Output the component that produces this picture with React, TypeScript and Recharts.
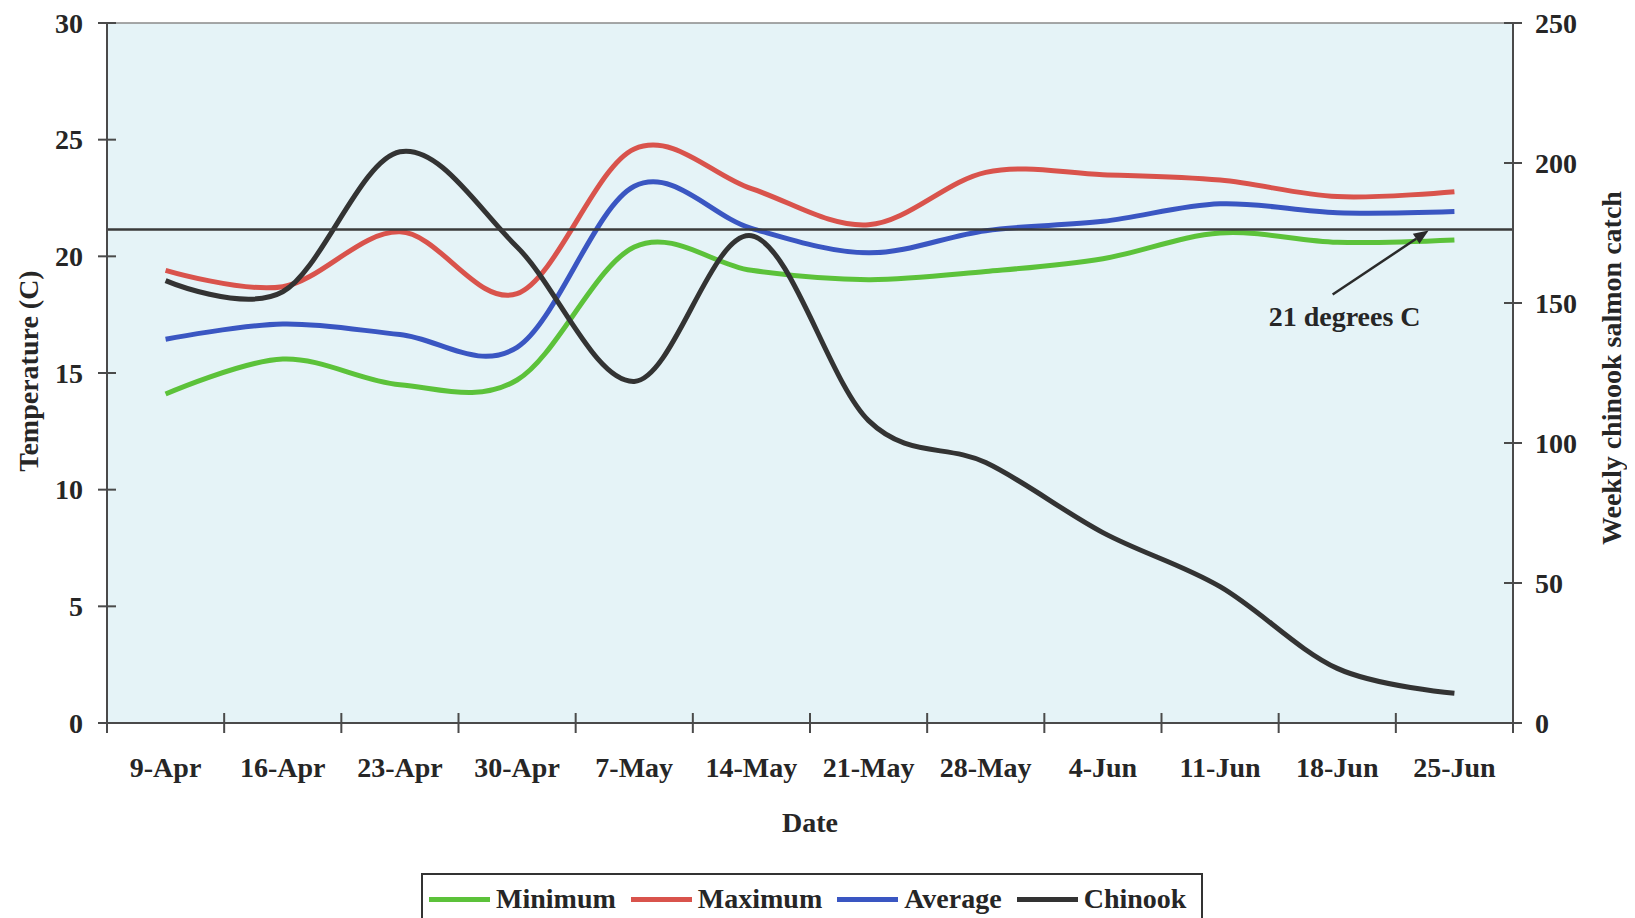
import React from 'react';
import { ComposedChart, Line, XAxis, YAxis, CartesianGrid, ReferenceLine, Legend } from 'recharts';

// ---------- data ----------
const dates = ['9-Apr', '16-Apr', '23-Apr', '30-Apr', '7-May', '14-May', '21-May', '28-May', '4-Jun', '11-Jun', '18-Jun', '25-Jun'];
const minimumTemp = [14.1, 15.6, 14.5, 14.7, 20.4, 19.4, 19.0, 19.35, 19.9, 21.0, 20.6, 20.7];
const maximumTemp = [19.4, 18.7, 21.05, 18.4, 24.6, 22.9, 21.35, 23.6, 23.5, 23.27, 22.56, 22.77];
const averageTemp = [16.45, 17.1, 16.65, 16.1, 23.0, 21.2, 20.15, 21.1, 21.5, 22.25, 21.87, 21.92];
const chinookCatch = [158, 154, 204, 170, 122, 174, 108, 93, 68, 48.7, 19.5, 10.6];
const seriesNames = ['Minimum', 'Maximum', 'Average', 'Chinook'];
const tempTicks = [0, 5, 10, 15, 20, 25, 30];
const catchTicks = [0, 50, 100, 150, 200, 250];
const thresholdTemp = 21.15;
const thresholdLabel = '21 degrees C';

const data = dates.map((d, i) => ({
  date: d,
  Minimum: minimumTemp[i],
  Maximum: maximumTemp[i],
  Average: averageTemp[i],
  Chinook: chinookCatch[i],
}));

// ---------- styling / layout ----------
const FONT = '"Liberation Serif", "Times New Roman", serif';
const TEXT = '#262626';
const AXIS = '#4a4a4a';
const GREEN = '#5cc23a';
const RED = '#d9534c';
const BLUE = '#3a56c2';
const BLACK = '#333333';
const BG = '#e5f3f7';

const W = 1619;
const H = 910;
const LEFT_W = 99;
const RIGHT_W = 114;
const TOP = 15;
const XAXIS_H = 195;
const PLOT_LEFT = LEFT_W;
const PLOT_RIGHT = W - RIGHT_W;
const PLOT_BOTTOM = H - XAXIS_H;
const PLOT_W = PLOT_RIGHT - PLOT_LEFT;
const BAND = PLOT_W / dates.length;

const textStyle = { fontFamily: FONT, fontWeight: 700, fontSize: 28, fill: TEXT } as const;

// Excel-like smoothed line (cardinal / Catmull-Rom)
function smoothCurve(context: any) {
  const k = 1 / 6;
  let x0 = NaN, x1 = NaN, x2 = NaN, y0 = NaN, y1 = NaN, y2 = NaN;
  let pt = 0;
  let line: number = NaN;
  const seg = (x: number, y: number) => {
    context.bezierCurveTo(
      x1 + k * (x2 - x0), y1 + k * (y2 - y0),
      x2 + k * (x1 - x), y2 + k * (y1 - y),
      x2, y2,
    );
  };
  return {
    areaStart() { line = 0; },
    areaEnd() { line = NaN; },
    lineStart() { x0 = x1 = x2 = y0 = y1 = y2 = NaN; pt = 0; },
    lineEnd() {
      if (pt === 2) context.lineTo(x2, y2);
      else if (pt === 3) seg(x1, y1);
      if (line || (line !== 0 && pt === 1)) context.closePath();
      line = 1 - line;
    },
    point(x: number, y: number) {
      x = +x; y = +y;
      if (pt === 0) {
        pt = 1;
        if (line) context.lineTo(x, y); else context.moveTo(x, y);
      } else if (pt === 1) {
        pt = 2; x1 = x; y1 = y;
      } else {
        if (pt === 2) pt = 3;
        seg(x, y);
      }
      x0 = x1; x1 = x2; x2 = x;
      y0 = y1; y1 = y2; y2 = y;
    },
  };
}

const LeftTick = (props: any) => {
  const { y, payload } = props;
  const ax = PLOT_LEFT;
  return (
    <g>
      <line x1={ax - 9} x2={ax + 9} y1={y} y2={y} stroke={AXIS} strokeWidth={2} />
      <text x={ax - 24} y={y} textAnchor="end" dominantBaseline="central" {...textStyle}>{payload.value}</text>
    </g>
  );
};

const RightTick = (props: any) => {
  const { y, payload } = props;
  const ax = PLOT_RIGHT;
  return (
    <g>
      <line x1={ax - 9} x2={ax + 9} y1={y} y2={y} stroke={AXIS} strokeWidth={2} />
      <text x={ax + 22} y={y} textAnchor="start" dominantBaseline="central" {...textStyle}>{payload.value}</text>
    </g>
  );
};

const BottomTick = (props: any) => {
  const { x, payload, index } = props;
  const ay = PLOT_BOTTOM;
  const left = x - BAND / 2;
  const right = x + BAND / 2;
  return (
    <g>
      <line x1={left} x2={left} y1={ay - 10} y2={ay + 10} stroke={AXIS} strokeWidth={2} />
      {index === dates.length - 1 && (
        <line x1={right} x2={right} y1={ay - 10} y2={ay + 10} stroke={AXIS} strokeWidth={2} />
      )}
      <text x={x} y={ay + 44} textAnchor="middle" dominantBaseline="central" {...textStyle}>{payload.value}</text>
    </g>
  );
};

const LeftTitle = () => {
  const cx = 20;
  const cy = 363;
  return (
    <text x={cx} y={cy} transform={`rotate(-90 ${cx} ${cy})`} textAnchor="middle" dominantBaseline="central" {...textStyle}>
      Temperature (C)
    </text>
  );
};

const RightTitle = () => {
  const cx = 1603;
  const cy = 360;
  return (
    <text x={cx} y={cy} transform={`rotate(-90 ${cx} ${cy})`} textAnchor="middle" dominantBaseline="central" {...textStyle}>
      Weekly chinook salmon catch
    </text>
  );
};

const BottomTitle = () => (
  <text x={PLOT_LEFT + PLOT_W / 2} y={PLOT_BOTTOM + 99} textAnchor="middle" dominantBaseline="central" {...textStyle}>
    Date
  </text>
);

const ThresholdAnnotation = (props: any) => {
  const vb = props.viewBox || {};
  const ly = typeof vb.y === 'number' ? vb.y : 220;
  const tipX = PLOT_LEFT + PLOT_W * 0.94;
  const tipY = ly + 1;
  const tailX = tipX - 96;
  const tailY = ly + 65;
  const dx = tipX - tailX;
  const dy = tipY - tailY;
  const len = Math.hypot(dx, dy);
  const ux = dx / len;
  const uy = dy / len;
  const hl = 15;
  const hw = 6;
  const bx = tipX - ux * hl;
  const by = tipY - uy * hl;
  const pts = `${tipX},${tipY} ${bx - uy * hw},${by + ux * hw} ${bx + uy * hw},${by - ux * hw}`;
  return (
    <g>
      <line x1={tailX} y1={tailY} x2={bx} y2={by} stroke="#2a2a2a" strokeWidth={2.5} />
      <polygon points={pts} fill="#2a2a2a" />
      <text x={tailX + 12} y={ly + 87} textAnchor="middle" dominantBaseline="central" {...textStyle}>
        {thresholdLabel}
      </text>
    </g>
  );
};

const LegendBox = (props: any) => {
  const payload = [...((props && props.payload) || [])].sort(
    (a: any, b: any) => seriesNames.indexOf(a.value) - seriesNames.indexOf(b.value),
  );
  return (
    <div
      style={{
        display: 'flex',
        alignItems: 'center',
        border: `2px solid ${BLACK}`,
        height: 52,
        boxSizing: 'border-box',
        paddingLeft: 6,
        background: '#ffffff',
        fontFamily: FONT,
        fontWeight: 700,
        fontSize: 28,
        color: TEXT,
        whiteSpace: 'nowrap',
      }}
    >
      {payload.map((it: any) => (
        <div key={it.value} style={{ display: 'flex', alignItems: 'center', marginRight: 15 }}>
          <span style={{ display: 'inline-block', width: 61, height: 5, background: it.color, marginRight: 6 }} />
          <span>{it.value}</span>
        </div>
      ))}
    </div>
  );
};

export default function App() {
  return (
    <div style={{ width: W, height: H, position: 'relative' }}>
      <style>{'body{overflow:hidden;}'}</style>
      <ComposedChart width={W} height={H} data={data} margin={{ top: TOP, right: 0, bottom: 0, left: 0 }}>
        <CartesianGrid horizontal={false} vertical={false} fill={BG} stroke="none" />
        <XAxis
          dataKey="date"
          height={XAXIS_H}
          tick={<BottomTick />}
          tickLine={false}
          axisLine={{ stroke: AXIS, strokeWidth: 2 }}
          interval={0}
          padding={{ left: BAND / 2, right: BAND / 2 }}
          label={<BottomTitle />}
        />
        <YAxis
          yAxisId="left"
          width={LEFT_W}
          domain={[0, 30]}
          ticks={tempTicks}
          tick={<LeftTick />}
          tickLine={false}
          axisLine={{ stroke: AXIS, strokeWidth: 2 }}
          label={<LeftTitle />}
        />
        <YAxis
          yAxisId="right"
          orientation="right"
          width={RIGHT_W}
          domain={[0, 250]}
          ticks={catchTicks}
          tick={<RightTick />}
          tickLine={false}
          axisLine={{ stroke: AXIS, strokeWidth: 2 }}
          label={<RightTitle />}
        />
        <ReferenceLine yAxisId="left" y={30} stroke="#8a8a8a" strokeWidth={1.5} />
        <Line yAxisId="left" dataKey="Minimum" stroke={GREEN} strokeWidth={5} type={smoothCurve as any} dot={false} activeDot={false} isAnimationActive={false} />
        <Line yAxisId="left" dataKey="Maximum" stroke={RED} strokeWidth={5} type={smoothCurve as any} dot={false} activeDot={false} isAnimationActive={false} />
        <Line yAxisId="left" dataKey="Average" stroke={BLUE} strokeWidth={5} type={smoothCurve as any} dot={false} activeDot={false} isAnimationActive={false} />
        <Line yAxisId="right" dataKey="Chinook" stroke={BLACK} strokeWidth={5} type={smoothCurve as any} dot={false} activeDot={false} isAnimationActive={false} />
        <ReferenceLine
          yAxisId="left"
          y={thresholdTemp}
          stroke="#3a3a3a"
          strokeWidth={2.5}
          label={<ThresholdAnnotation />}
        />
        <Legend
          layout="horizontal"
          verticalAlign="middle"
          align="center"
          content={<LegendBox />}
          wrapperStyle={{ left: 413, top: 865, width: 'auto' }}
        />
      </ComposedChart>
    </div>
  );
}
